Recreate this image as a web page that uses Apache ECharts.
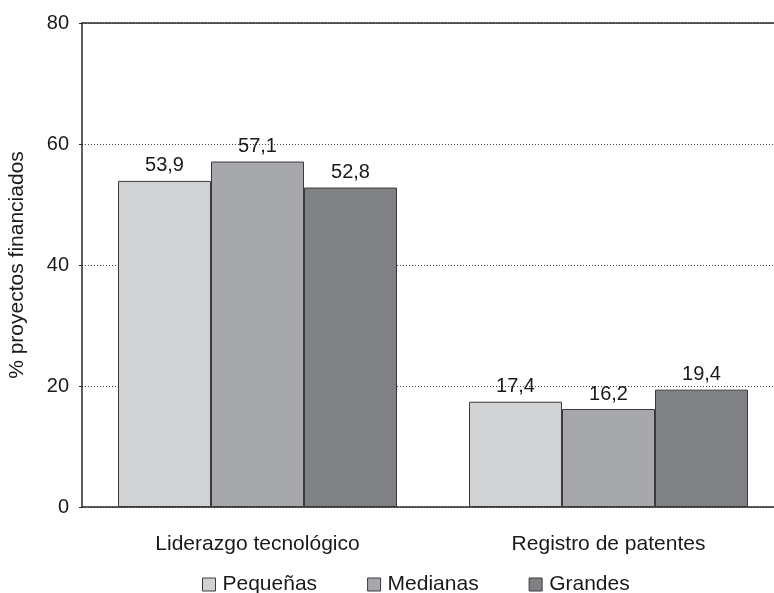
<!DOCTYPE html>
<html>
<head>
<meta charset="utf-8">
<script src="https://cdn.jsdelivr.net/npm/echarts@6/dist/echarts.min.js"></script>
<style>html,body{margin:0;padding:0;background:#fff}#c{width:774px;height:593px}</style>
</head>
<body>
<div id="c"></div>
<script>
var categories = ['Liderazgo tecnológico', 'Registro de patentes'];
var seriesNames = ['Pequeñas', 'Medianas', 'Grandes'];
var pequenas = [53.9, 17.4];
var medianas = [57.1, 16.2];
var grandes = [52.8, 19.4];
var yTicks = [0, 20, 40, 60, 80];
var yName = '% proyectos financiados';

var colors = ['#d1d2d4', '#a7a8ab', '#808184'];
var FONT = 'Liberation Sans, Arial, sans-serif';
var chart = echarts.init(document.getElementById('c'), null, {renderer: 'canvas'});

function mk(name, data, i) {
  return {
    name: name, type: 'bar', data: data,
    barWidth: 93, barGap: '0%',
    itemStyle: {color: colors[i], borderColor: '#3a3a3a', borderWidth: 1},
    label: {
      show: true, position: 'top', distance: 5,
      color: '#1a1a1a', fontSize: 20, fontFamily: FONT,
      formatter: function (p) { return String(p.value.toFixed(1)).replace('.', ','); }
    }
  };
}

chart.setOption({
  animation: false,
  grid: {left: 82, width: 702, top: 23, bottom: 86, containLabel: false, outerBoundsMode: 'none'},
  legend: {
    data: seriesNames, left: 202, top: 574, padding: 0,
    itemWidth: 13, itemHeight: 13, itemGap: 50,
    icon: 'rect',
    itemStyle: {borderColor: '#3a3a3a', borderWidth: 1},
    textStyle: {fontSize: 21, fontFamily: FONT, color: '#1a1a1a', padding: [0, 0, 0, 2]}
  },
  xAxis: [{
    type: 'category', data: categories,
    axisLine: {show: true, lineStyle: {color: '#2a2a2a', width: 1.5}},
    axisTick: {show: false},
    axisLabel: {fontSize: 21, fontFamily: FONT, color: '#1a1a1a', margin: 27}
  }, {
    type: 'category', data: categories, position: 'top',
    axisLine: {show: true, onZero: false, lineStyle: {color: '#2a2a2a', width: 1.5}},
    axisTick: {show: false}, axisLabel: {show: false}
  }],
  yAxis: {
    type: 'value', min: yTicks[0], max: yTicks[yTicks.length - 1], interval: 20,
    name: yName, nameLocation: 'middle', nameGap: 54, nameRotate: 90,
    nameTextStyle: {fontSize: 21, fontFamily: FONT, color: '#1a1a1a'},
    axisLine: {show: true, lineStyle: {color: '#2a2a2a', width: 1.5}},
    axisTick: {show: true, length: 3, lineStyle: {color: '#2a2a2a'}},
    axisLabel: {fontSize: 20, fontFamily: FONT, color: '#1a1a1a', margin: 13},
    splitLine: {show: true, lineStyle: {color: '#444', type: [1, 2], width: 1}}
  },
  series: [mk(seriesNames[0], pequenas, 0), mk(seriesNames[1], medianas, 1), mk(seriesNames[2], grandes, 2)]
});
</script>
</body>
</html>
